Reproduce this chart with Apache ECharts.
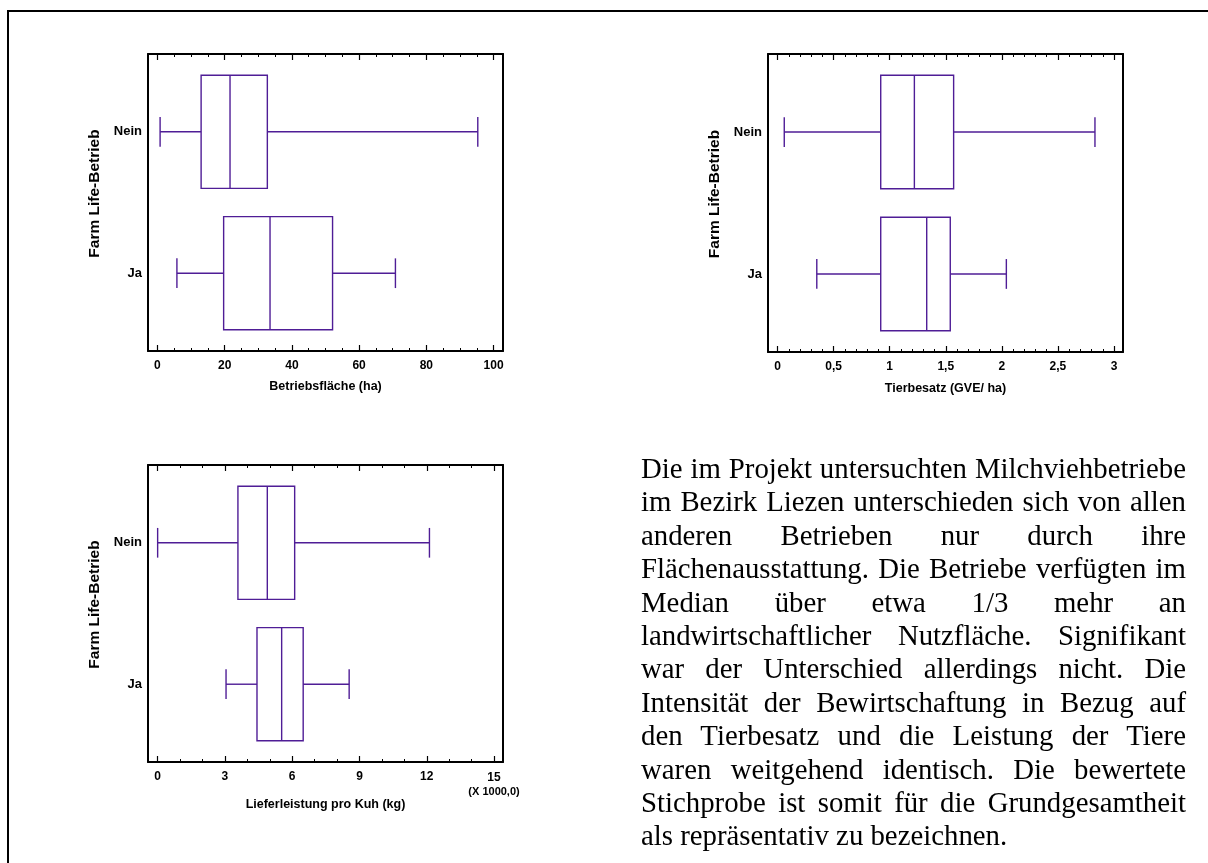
<!DOCTYPE html>
<html>
<head>
<meta charset="utf-8">
<title>FarmLife-Betriebe</title>
<script src="https://cdn.jsdelivr.net/npm/echarts@6/dist/echarts.min.js"></script>
<style>
  html, body { margin: 0; padding: 0; background: #fff; }
  #page { position: relative; width: 1208px; height: 863px; overflow: hidden; }
  #myEcharts { position: absolute; left: 0; top: 0; width: 1208px; height: 863px; }
  #frame { position: absolute; left: 7px; top: 10px; width: 1400px; height: 1000px;
           border-top: 2px solid #000; border-left: 2px solid #000; }
  #note { position: absolute; left: 641px; top: 452px; width: 545px;
          font-family: 'Liberation Serif', 'Times New Roman', serif;
          font-size: 28.8px; line-height: 33.4px; text-align: justify; color: #000; }
</style>
</head>
<body>
<div id="page">
  <div id="frame"></div>
  <div id="myEcharts"></div>
  <div id="note">Die im Projekt untersuchten Milchviehbetriebe im Bezirk Liezen unterschieden sich von allen anderen Betrieben nur durch ihre Flächenausstattung. Die Betriebe verfügten im Median über etwa 1/3 mehr an landwirtschaftlicher Nutzfläche. Signifikant war der Unterschied allerdings nicht. Die Intensität der Bewirtschaftung in Bezug auf den Tierbesatz und die Leistung der Tiere waren weitgehend identisch. Die bewertete Stichprobe ist somit für die Grundgesamtheit als repräsentativ zu bezeichnen.</div>
</div>
<script>
// Kategorien (y-Achse)
const groups = ["Nein", "Ja"];

// Boxplots: [min, Q1, Median, Q3, max]
// Betriebsfläche (ha)
const flaecheNein = [0.8, 13.0, 21.6, 32.7, 95.3];
const flaecheJa = [5.8, 19.7, 33.5, 52.1, 70.8];
// Tierbesatz (GVE/ha)
const besatzNein = [0.06, 0.92, 1.22, 1.57, 2.83];
const besatzJa = [0.35, 0.92, 1.33, 1.54, 2.04];
// Lieferleistung pro Kuh (x 1000 kg)
const leistungNein = [0.0, 3.58, 4.89, 6.11, 12.12];
const leistungJa = [3.05, 4.43, 5.53, 6.49, 8.54];

// Achsenbeschriftungen
const flaecheTicks = [0, 20, 40, 60, 80, 100];
const besatzTicks = [0, 0.5, 1, 1.5, 2, 2.5, 3];
const leistungTicks = [0, 3, 6, 9, 12, 15];

const boxColor = "#4f1d96";
const font = "'Liberation Sans', Arial, sans-serif";

// Zwischenstriche zwischen den Hauptstrichen
function minorTicks(ticks, parts) {
  const out = [];
  for (let i = 0; i < ticks.length - 1; i++) {
    const step = (ticks[i + 1] - ticks[i]) / parts;
    for (let k = 1; k < parts; k++) out.push(+(ticks[i] + k * step).toFixed(4));
  }
  return out;
}

function renderBox(params, api) {
  const y = api.value(0);
  const p = [1, 2, 3, 4, 5].map(i => api.coord([api.value(i), y]));
  const cy = p[0][1];
  const boxH = api.size([0, 0.8])[1];
  const capH = api.size([0, 0.21])[1];
  const style = { stroke: boxColor, fill: null, lineWidth: 1.4 };
  const line = (x1, y1, x2, y2) => ({ type: "line", shape: { x1, y1, x2, y2 }, style });
  return {
    type: "group",
    children: [
      { type: "rect", shape: { x: p[1][0], y: cy - boxH / 2, width: p[3][0] - p[1][0], height: boxH }, style },
      line(p[2][0], cy - boxH / 2, p[2][0], cy + boxH / 2),
      line(p[0][0], cy, p[1][0], cy),
      line(p[3][0], cy, p[4][0], cy),
      line(p[0][0], cy - capH / 2, p[0][0], cy + capH / 2),
      line(p[4][0], cy - capH / 2, p[4][0], cy + capH / 2),
    ],
  };
}

const panels = [
  { grid: { left: 148, top: 54, width: 355, height: 297 },
    min: -2.8, max: 102.8, ticks: flaecheTicks, parts: 4,
    name: "Betriebsfläche (ha)", nameGap: 29, nein: flaecheNein, ja: flaecheJa,
    fmt: v => String(v) },
  { grid: { left: 768, top: 54, width: 355, height: 298 },
    min: -0.085, max: 3.08, ticks: besatzTicks, parts: 5,
    name: "Tierbesatz (GVE/ ha)", nameGap: 30, nein: besatzNein, ja: besatzJa,
    fmt: v => String(v).replace(".", ",") },
  { grid: { left: 148, top: 465, width: 355, height: 297 },
    min: -0.43, max: 15.4, ticks: leistungTicks, parts: 3,
    name: "Lieferleistung pro Kuh (kg)", nameGap: 31, nein: leistungNein, ja: leistungJa,
    fmt: v => (v === 15 ? "{v|15}\n{u|(X 1000,0)}" : String(v)) },
];

const option = { animation: false, grid: [], xAxis: [], yAxis: [], series: [] };

panels.forEach((pn, gi) => {
  const minors = minorTicks(pn.ticks, pn.parts);
  option.grid.push(pn.grid);
  const base = { gridIndex: gi, type: "value", min: pn.min, max: pn.max, splitLine: { show: false } };
  const axisLine = { show: true, onZero: false, lineStyle: { color: "#000", width: 2 } };
  const noLine = { show: false, onZero: false };
  // unten: Hauptstriche mit Beschriftung
  option.xAxis.push({
    ...base, position: "bottom", axisLine,
    axisTick: { customValues: pn.ticks, inside: true, length: 6, lineStyle: { color: "#000", width: 1.2 } },
    axisLabel: {
      customValues: pn.ticks, formatter: pn.fmt, margin: 9, color: "#000",
      fontFamily: font, fontWeight: "bold", fontSize: 12,
      rich: {
        v: { fontFamily: font, fontWeight: "bold", fontSize: 12, lineHeight: 14, color: "#000" },
        u: { fontFamily: font, fontWeight: "bold", fontSize: 11, lineHeight: 14, color: "#000" },
      },
    },
    name: pn.name, nameLocation: "middle", nameGap: pn.nameGap,
    nameTextStyle: { fontFamily: font, fontWeight: "bold", fontSize: 12.5, color: "#000" },
  });
  // unten: Zwischenstriche
  option.xAxis.push({
    ...base, position: "bottom", axisLine: noLine, axisLabel: { show: false },
    axisTick: { customValues: minors, inside: true, length: 3, lineStyle: { color: "#000", width: 1 } },
  });
  // oben: Haupt- und Zwischenstriche
  option.xAxis.push({
    ...base, position: "top", axisLine, axisLabel: { show: false },
    axisTick: { customValues: pn.ticks, inside: true, length: 6, lineStyle: { color: "#000", width: 1.2 } },
  });
  option.xAxis.push({
    ...base, position: "top", axisLine: noLine, axisLabel: { show: false },
    axisTick: { customValues: minors, inside: true, length: 3, lineStyle: { color: "#000", width: 1 } },
  });
  option.yAxis.push({
    gridIndex: gi, type: "value", min: -0.55, max: 1.55, inverse: true, position: "left",
    splitLine: { show: false }, axisLine, axisTick: { show: false },
    axisLabel: {
      customValues: [0, 1], formatter: v => groups[v], margin: 6, color: "#000",
      fontFamily: font, fontWeight: "bold", fontSize: 13,
    },
    name: "Farm Life-Betrieb", nameLocation: "middle", nameGap: 45,
    nameTextStyle: { fontFamily: font, fontWeight: "bold", fontSize: 15.5, color: "#000", padding: [0, 0, 0, 18] },
  });
  option.yAxis.push({
    gridIndex: gi, type: "value", min: -0.55, max: 1.55, inverse: true, position: "right",
    splitLine: { show: false }, axisLine, axisTick: { show: false }, axisLabel: { show: false },
  });
  option.series.push({
    type: "custom", xAxisIndex: gi * 4, yAxisIndex: gi * 2, silent: true, clip: false,
    encode: { x: [1, 2, 3, 4, 5], y: 0 },
    renderItem: renderBox,
    data: [[0, ...pn.nein], [1, ...pn.ja]],
  });
});

const chart = echarts.init(document.getElementById("myEcharts"));
chart.setOption(option);
window.onresize = function () {
  chart.resize();
};
</script>
</body>
</html>
